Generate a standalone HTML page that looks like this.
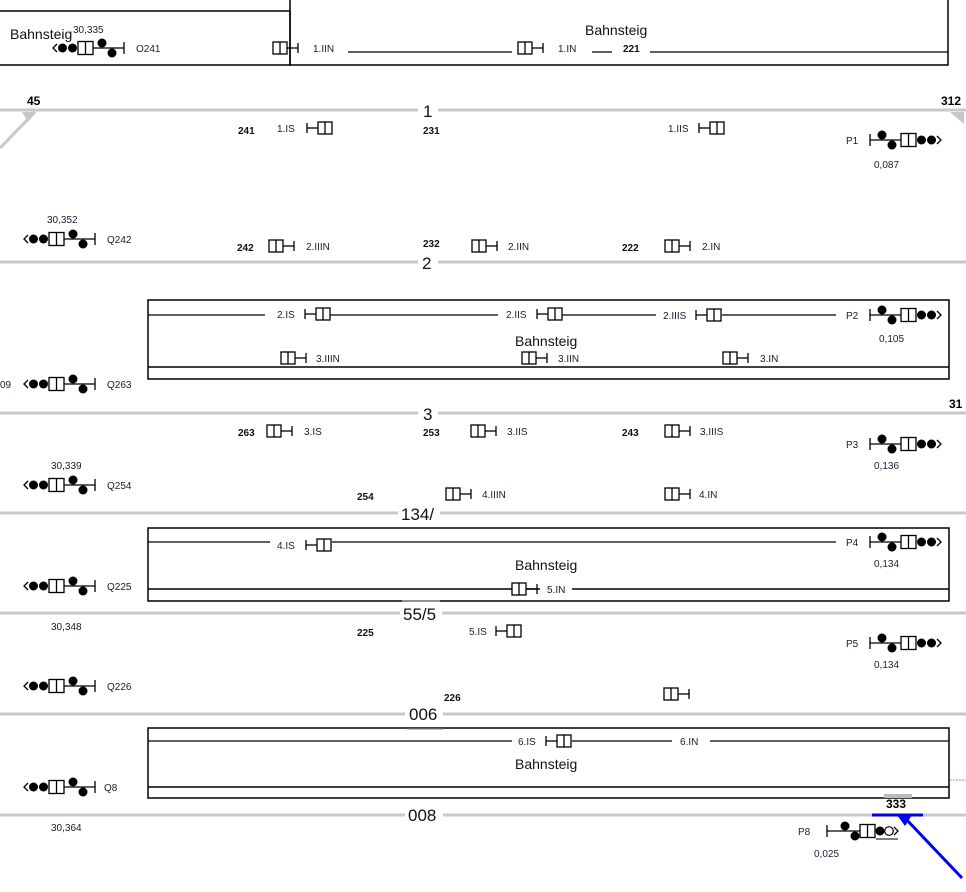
<!DOCTYPE html>
<html><head><meta charset="utf-8"><style>
html,body{margin:0;padding:0;background:#fff;}
svg{display:block;}
text{font-family:"Liberation Sans",sans-serif;}
.s{font-size:10px;fill:#1a1a33;}
.b{font-size:10px;font-weight:bold;fill:#111;}
.t{font-size:17px;fill:#111;}
.p{font-size:14px;fill:#111;}
</style></head><body>
<svg width="966" height="892" viewBox="0 0 966 892" xmlns="http://www.w3.org/2000/svg">
<defs>
<g id="ml">
<path d="M4,-4 L0,0 L4,4" fill="none" stroke="#000" stroke-width="1.3"/>
<circle cx="9.5" cy="0" r="4.5"/><circle cx="19.5" cy="0" r="4.5"/>
<rect x="25" y="-6.5" width="15" height="13" fill="#fff" stroke="#000" stroke-width="1.3"/>
<line x1="32.5" y1="-6.5" x2="32.5" y2="6.5" stroke="#000" stroke-width="1.3"/>
<line x1="40" y1="0" x2="71" y2="0" stroke="#000" stroke-width="1.3"/>
<circle cx="49" cy="-5" r="4.5"/><circle cx="59" cy="5" r="4.5"/>
<line x1="71" y1="-6" x2="71" y2="6" stroke="#000" stroke-width="1.3"/>
</g>
<g id="sr">
<rect x="0" y="-6" width="14" height="12" fill="#fff" stroke="#000" stroke-width="1.3"/>
<line x1="7" y1="-6" x2="7" y2="6" stroke="#000" stroke-width="1.3"/>
<line x1="14" y1="0" x2="25" y2="0" stroke="#000" stroke-width="1.3"/>
<line x1="25" y1="-5" x2="25" y2="5" stroke="#000" stroke-width="1.3"/>
</g>
</defs>

<!-- tracks -->
<g stroke="#c8c8c8" stroke-width="3">
<line x1="0" y1="110" x2="966" y2="110"/>
<line x1="0" y1="262" x2="966" y2="262"/>
<line x1="0" y1="413" x2="966" y2="413"/>
<line x1="0" y1="513" x2="966" y2="513"/>
<line x1="0" y1="613" x2="966" y2="613"/>
<line x1="0" y1="714" x2="966" y2="714"/>
<line x1="0" y1="815" x2="966" y2="815"/>
<line x1="35" y1="112" x2="0" y2="148"/>
</g>
<polygon points="22,112 36,112 28,122" fill="#c8c8c8"/>
<polygon points="950,112 964,112 964,124" fill="#c8c8c8"/>

<!-- platforms -->
<g fill="none" stroke="#000" stroke-width="1.5">
<rect x="-2" y="11" width="292" height="54"/>
<rect x="290" y="-2" width="658" height="67"/>
<rect x="148" y="300" width="801" height="79"/>
<line x1="148" y1="367" x2="949" y2="367"/>
<rect x="148" y="528" width="801" height="73"/>
<line x1="148" y1="589" x2="949" y2="589"/>
<rect x="148" y="728" width="801" height="70"/>
<line x1="148" y1="787" x2="949" y2="787"/>
</g>
<g stroke="#000" stroke-width="1.2">
<line x1="348" y1="52" x2="512" y2="52"/><line x1="592" y1="52" x2="612" y2="52"/><line x1="650" y1="52" x2="948" y2="52"/>
<line x1="148" y1="315" x2="265" y2="315"/><line x1="330" y1="315" x2="498" y2="315"/><line x1="562" y1="315" x2="656" y2="315"/><line x1="722" y1="315" x2="836" y2="315"/>
<line x1="148" y1="542" x2="270" y2="542"/><line x1="332" y1="542" x2="836" y2="542"/>
<line x1="148" y1="741" x2="512" y2="741"/><line x1="572" y1="741" x2="672" y2="741"/><line x1="710" y1="741" x2="949" y2="741"/>
</g>
<rect x="540" y="582" width="32" height="14" fill="#fff"/>
<text class="p" x="10" y="39">Bahnsteig</text>
<text class="p" x="585" y="35">Bahnsteig</text>
<text class="p" x="515" y="346">Bahnsteig</text>
<text class="p" x="515" y="570">Bahnsteig</text>
<text class="p" x="515" y="769">Bahnsteig</text>

<!-- track labels -->
<g class="t">
<rect x="418" y="100" width="20" height="18" fill="#fff"/><text x="423" y="117">1</text>
<rect x="418" y="252" width="20" height="18" fill="#fff"/><text x="422" y="269">2</text>
<rect x="418" y="403" width="20" height="18" fill="#fff"/><text x="423" y="420">3</text>
<rect x="398" y="503" width="42" height="18" fill="#fff"/><text x="401" y="520">134/</text>
<rect x="400" y="602" width="42" height="20" fill="#fff"/><text x="403" y="620">55/5</text>
<rect x="405" y="704" width="38" height="20" fill="#fff"/><text x="409" y="720">006</text>
<rect x="405" y="805" width="38" height="20" fill="#fff"/><text x="408" y="821">008</text>
</g>
<line x1="402" y1="601" x2="440" y2="601" stroke="#999" stroke-width="1.2"/>
<line x1="407" y1="729" x2="443" y2="729" stroke="#999" stroke-width="1.2"/>
<text x="27" y="105" style="font-size:12px;font-weight:bold">45</text>
<text x="941" y="105" style="font-size:12px;font-weight:bold">312</text>
<text x="949" y="408" style="font-size:12px;font-weight:bold">31</text>

<!-- bold numbers -->
<g class="b">
<text x="238" y="134">241</text><text x="423" y="134">231</text>
<text x="237" y="251">242</text><text x="423" y="247">232</text><text x="622" y="251">222</text>
<text x="238" y="436">263</text><text x="423" y="436">253</text><text x="622" y="436">243</text>
<text x="357" y="500">254</text><text x="357" y="636">225</text><text x="444" y="701">226</text>
<text x="623" y="52">221</text>
</g>

<!-- main signals left -->
<use href="#ml" x="53" y="48"/><text class="s" x="136" y="52">O241</text><text class="s" x="73" y="33">30,335</text>
<use href="#ml" x="24" y="239"/><text class="s" x="107" y="243">Q242</text><text class="s" x="47" y="223">30,352</text>
<use href="#ml" x="24" y="384"/><text class="s" x="107" y="388">Q263</text><text class="s" x="0" y="388">09</text>
<use href="#ml" x="24" y="485"/><text class="s" x="107" y="489">Q254</text><text class="s" x="51" y="469">30,339</text>
<use href="#ml" x="24" y="586"/><text class="s" x="107" y="590">Q225</text><text class="s" x="51" y="630">30,348</text>
<use href="#ml" x="24" y="686"/><text class="s" x="107" y="690">Q226</text>
<use href="#ml" x="24" y="787"/><text class="s" x="104" y="791">Q8</text><text class="s" x="51" y="831">30,364</text>

<!-- main signals right -->
<use href="#ml" transform="translate(941,140) scale(-1,-1)"/><text class="s" x="846" y="144">P1</text><text class="s" x="874" y="168">0,087</text>
<use href="#ml" transform="translate(941,315) scale(-1,-1)"/><text class="s" x="846" y="319">P2</text><text class="s" x="879" y="342">0,105</text>
<use href="#ml" transform="translate(941,444) scale(-1,-1)"/><text class="s" x="846" y="448">P3</text><text class="s" x="874" y="469">0,136</text>
<use href="#ml" transform="translate(941,542) scale(-1,-1)"/><text class="s" x="846" y="546">P4</text><text class="s" x="874" y="567">0,134</text>
<use href="#ml" transform="translate(941,643) scale(-1,-1)"/><text class="s" x="846" y="647">P5</text><text class="s" x="874" y="668">0,134</text>
<!-- P8 -->
<g transform="translate(827,831)">
<line x1="0" y1="-6" x2="0" y2="6" stroke="#000" stroke-width="1.3"/>
<line x1="0" y1="0" x2="33" y2="0" stroke="#000" stroke-width="1.3"/>
<circle cx="18" cy="-5" r="4.5"/><circle cx="28" cy="5" r="4.5"/>
<rect x="33" y="-6.5" width="15" height="13" fill="#fff" stroke="#000" stroke-width="1.3"/>
<line x1="40.5" y1="-6.5" x2="40.5" y2="6.5" stroke="#000" stroke-width="1.3"/>
<circle cx="53" cy="0" r="4.5"/><circle cx="62" cy="0" r="4.3" fill="#fff" stroke="#000" stroke-width="1.2"/>
<path d="M67,-4 L71,0 L67,4" fill="none" stroke="#000" stroke-width="1.3"/>
<line x1="49" y1="8" x2="71" y2="8" stroke="#000" stroke-width="1"/>
</g>
<text class="s" x="798" y="835">P8</text><text class="s" x="814" y="857">0,025</text>

<!-- small signals, box left, bar right -->
<use href="#sr" x="273" y="48"/><text class="s" x="313" y="52">1.IIN</text>
<use href="#sr" x="518" y="48"/><text class="s" x="558" y="52">1.IN</text>
<use href="#sr" x="269" y="246"/><text class="s" x="306" y="250">2.IIIN</text>
<use href="#sr" x="472" y="246"/><text class="s" x="508" y="250">2.IIN</text>
<use href="#sr" x="665" y="246"/><text class="s" x="702" y="250">2.IN</text>
<use href="#sr" x="281" y="358"/><text class="s" x="316" y="362">3.IIIN</text>
<use href="#sr" x="522" y="358"/><text class="s" x="558" y="362">3.IIN</text>
<use href="#sr" x="723" y="358"/><text class="s" x="760" y="362">3.IN</text>
<use href="#sr" x="267" y="431"/><text class="s" x="304" y="435">3.IS</text>
<use href="#sr" x="471" y="431"/><text class="s" x="507" y="435">3.IIS</text>
<use href="#sr" x="665" y="431"/><text class="s" x="700" y="435">3.IIIS</text>
<use href="#sr" x="446" y="494"/><text class="s" x="482" y="498">4.IIIN</text>
<use href="#sr" x="665" y="494"/><text class="s" x="699" y="498">4.IN</text>
<use href="#sr" x="512" y="589"/><text class="s" x="547" y="593">5.IN</text>
<use href="#sr" x="664" y="694"/>

<!-- small signals, bar left, box right -->
<use href="#sr" transform="translate(332,128) scale(-1,1)"/><text class="s" x="277" y="132">1.IS</text>
<use href="#sr" transform="translate(724,128) scale(-1,1)"/><text class="s" x="668" y="132">1.IIS</text>
<use href="#sr" transform="translate(330,314) scale(-1,1)"/><text class="s" x="277" y="318">2.IS</text>
<use href="#sr" transform="translate(562,314) scale(-1,1)"/><text class="s" x="506" y="318">2.IIS</text>
<use href="#sr" transform="translate(721,315) scale(-1,1)"/><text class="s" x="663" y="319">2.IIIS</text>
<use href="#sr" transform="translate(331,545) scale(-1,1)"/><text class="s" x="277" y="549">4.IS</text>
<use href="#sr" transform="translate(521,631) scale(-1,1)"/><text class="s" x="469" y="635">5.IS</text>
<use href="#sr" transform="translate(571,741) scale(-1,1)"/><text class="s" x="518" y="745">6.IS</text>
<text class="s" x="680" y="745">6.IN</text>

<!-- 333 & blue -->
<rect x="884" y="794" width="28" height="4" fill="#bbb"/>
<text x="886" y="808" style="font-size:12px;font-weight:bold">333</text>
<line x1="872" y1="815" x2="923" y2="815" stroke="#0000ee" stroke-width="3"/>
<polygon points="897,815 912,815 905,826" fill="#0000ee"/>
<line x1="905" y1="818" x2="962" y2="878" stroke="#0000ee" stroke-width="3"/>
<line x1="950" y1="780" x2="966" y2="780" stroke="#e070e0" stroke-width="1" stroke-dasharray="2,1"/>
</svg>
</body></html>
